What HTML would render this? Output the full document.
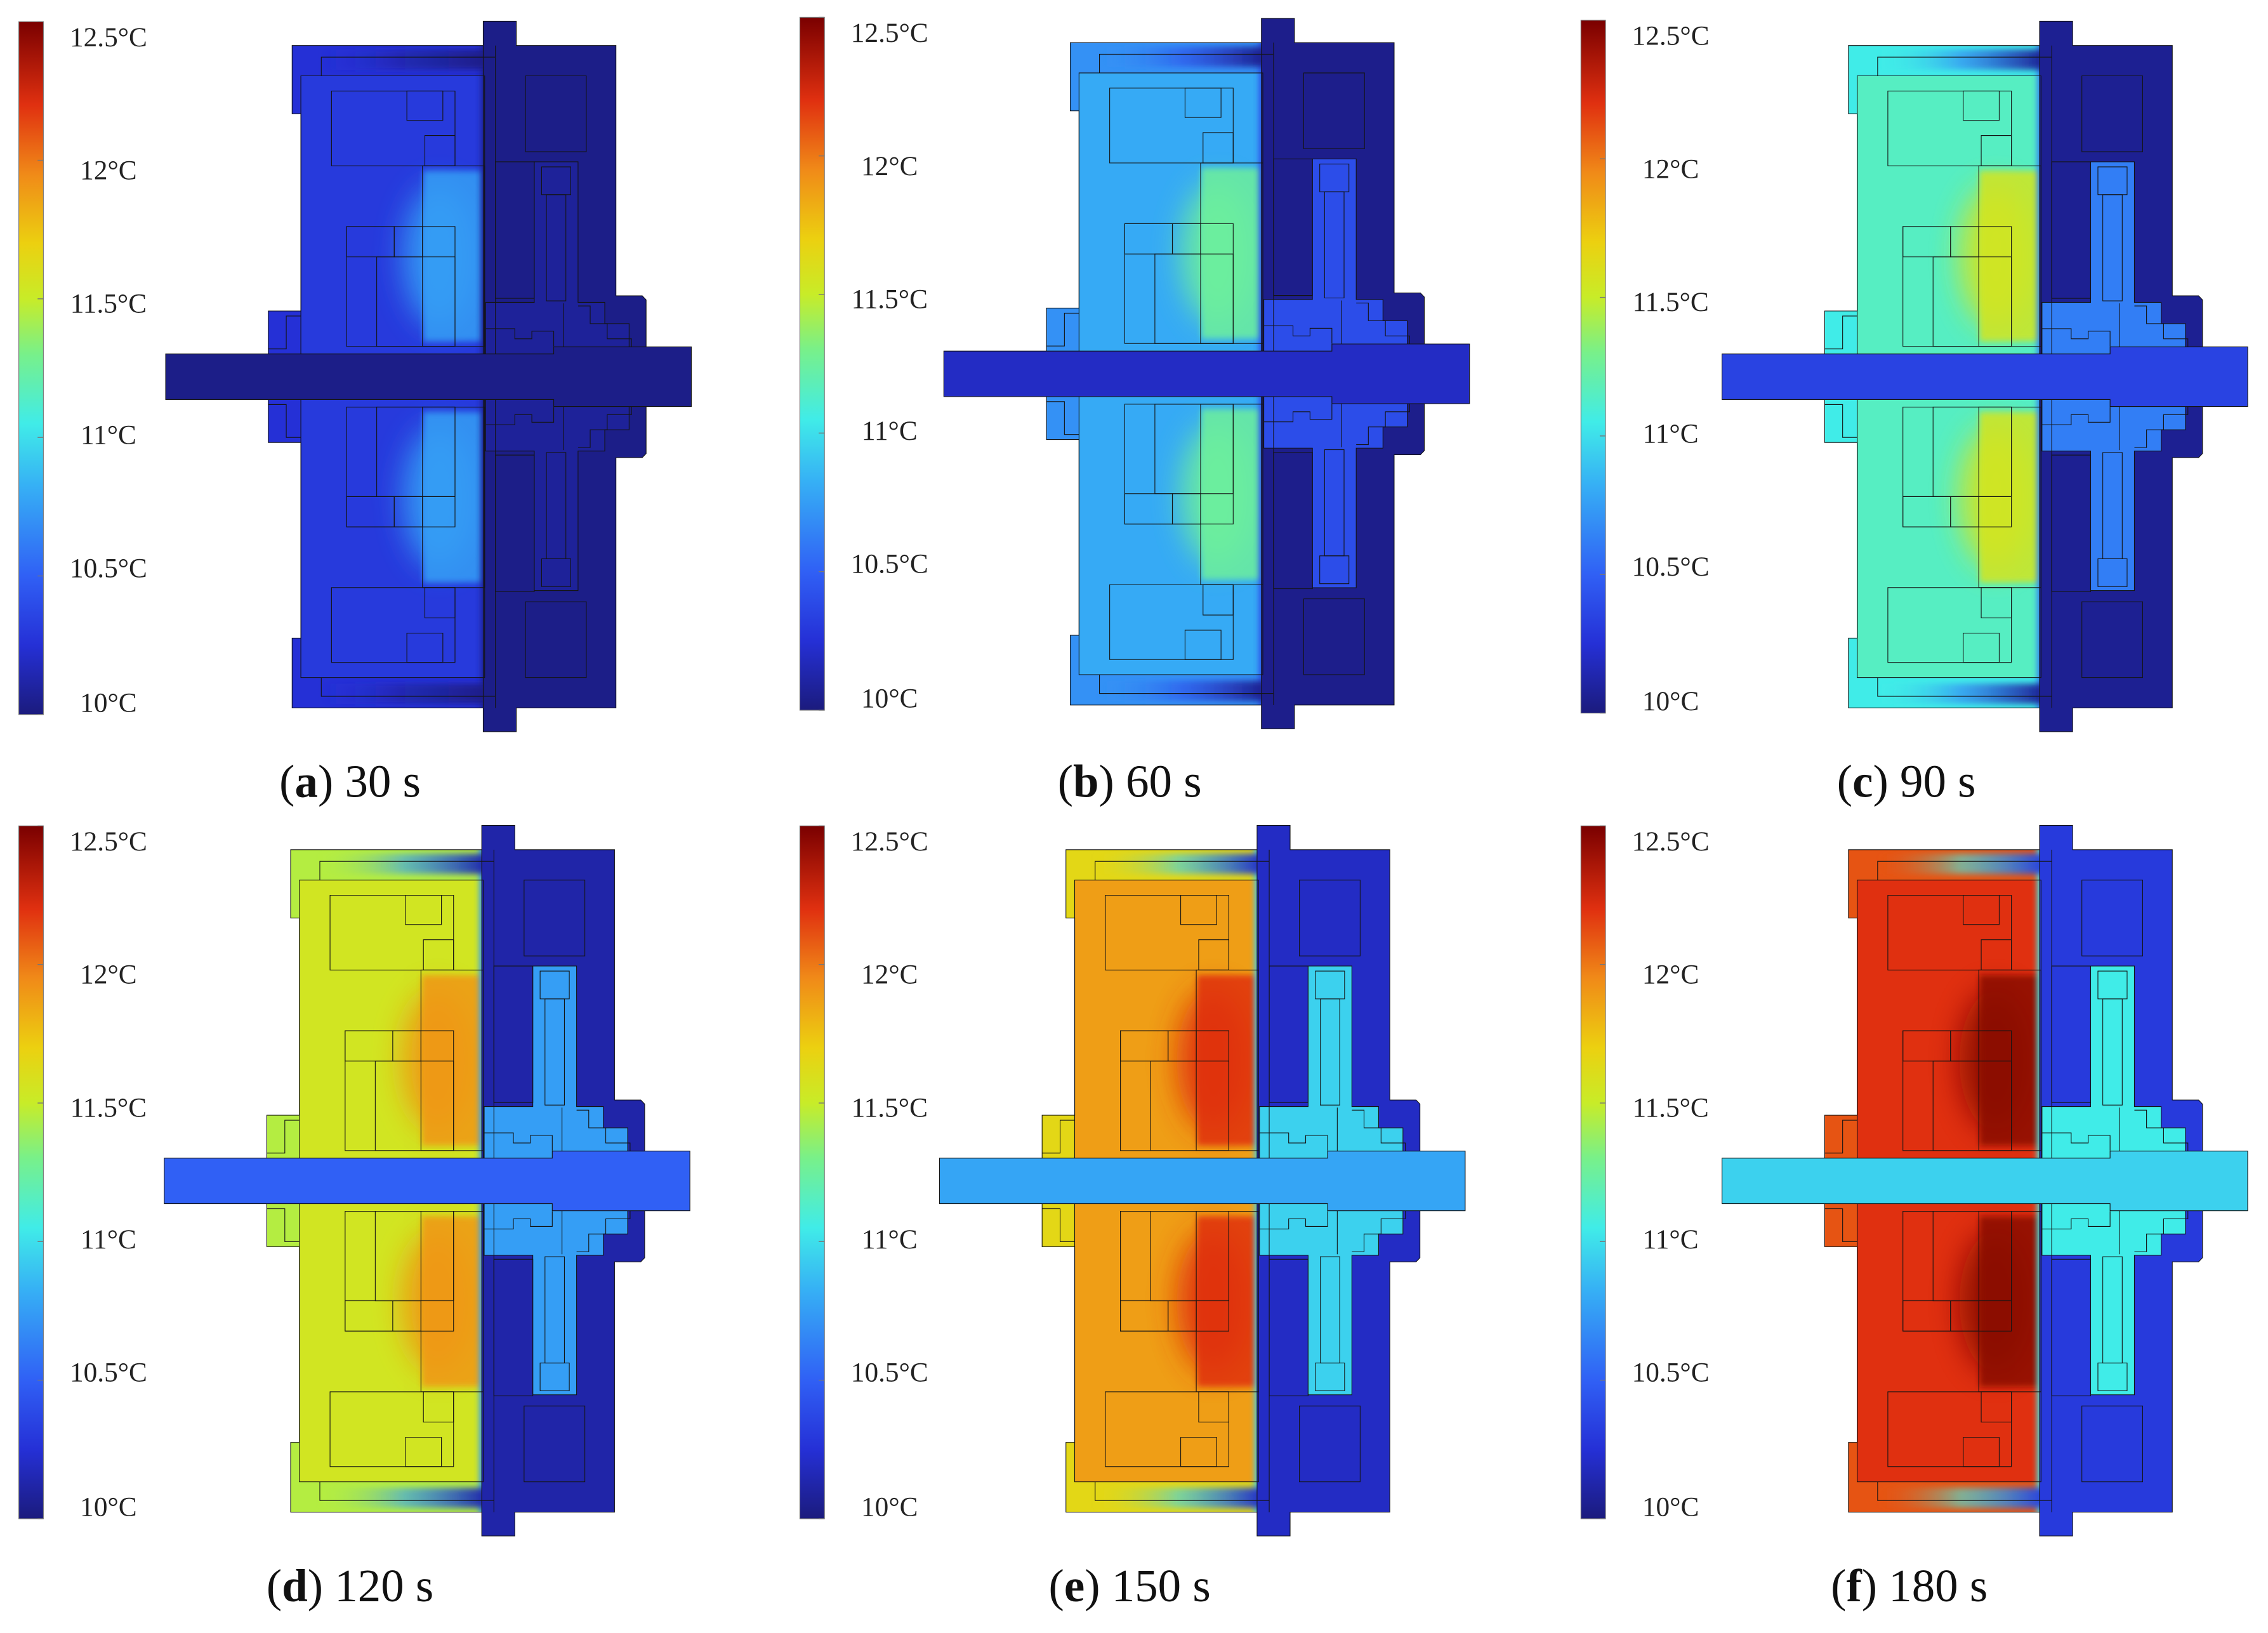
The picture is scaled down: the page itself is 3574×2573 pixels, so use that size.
<!DOCTYPE html>
<html><head><meta charset="utf-8"><style>
html,body{margin:0;padding:0;background:#fff;}
svg{display:block;}
text{font-family:"Liberation Serif",serif;}
</style></head><body>
<svg id="fig" width="3574" height="2573" viewBox="0 0 1568 1129" preserveAspectRatio="none" xmlns="http://www.w3.org/2000/svg">
<defs>
<linearGradient id="cbar" x1="0" y1="1" x2="0" y2="0">
<stop offset="0" stop-color="#1b1b7d"/><stop offset="0.1" stop-color="#2530d6"/><stop offset="0.2" stop-color="#3060f5"/><stop offset="0.33" stop-color="#36b0f5"/><stop offset="0.42" stop-color="#40ece8"/><stop offset="0.52" stop-color="#78f08a"/><stop offset="0.6" stop-color="#c8ec28"/><stop offset="0.68" stop-color="#ecd010"/><stop offset="0.78" stop-color="#f08a18"/><stop offset="0.88" stop-color="#e03010"/><stop offset="1" stop-color="#7a0000"/>
</linearGradient>
<filter id="blur" x="-50%" y="-50%" width="200%" height="200%"><feGaussianBlur stdDeviation="30"/></filter>
<filter id="blur2" x="-50%" y="-50%" width="200%" height="200%"><feGaussianBlur stdDeviation="6"/></filter>
</defs>
</svg>
<script>
const panelLabels = ['a','b','c','d','e','f'];
const panelTimes = ['30 s','60 s','90 s','120 s','150 s','180 s'];
const coldTemp = [10.03, 10.04, 10.06, 10.12, 10.2, 10.3];
const shellTemp = [10.25, 10.7, 11.05, 11.45, 11.65, 12.1];
const housingTemp = [10.3, 10.8, 11.15, 11.55, 11.88, 12.2];
const hotTemp = [10.75, 11.25, 11.55, 11.9, 12.2, 12.45];
const shaftTemp = [10.03, 10.2, 10.35, 10.5, 10.78, 10.95];
const hubTemp = [10.08, 10.4, 10.62, 10.75, 10.95, 11.05];
const tickValues = [12.5, 12, 11.5, 11, 10.5, 10];
const tickLabels = ['12.5°C','12°C','11.5°C','11°C','10.5°C','10°C'];
const tMin = 10, tMax = 12.5;

const stops = [[0,[27,27,125]],[0.1,[37,48,214]],[0.2,[48,96,245]],[0.33,[54,176,245]],[0.42,[64,236,232]],[0.52,[120,240,138]],[0.6,[200,236,40]],[0.68,[236,208,16]],[0.78,[240,138,24]],[0.88,[224,48,16]],[1,[122,0,0]]];
function jet(v){
  let t=(v-tMin)/(tMax-tMin); t=Math.max(0,Math.min(1,t));
  for(let i=1;i<stops.length;i++){ if(t<=stops[i][0]){ const a=stops[i-1],b=stops[i],f=(t-a[0])/(b[0]-a[0]);
    const c=a[1].map((x,k)=>Math.round(x+(b[1][k]-x)*f)); return 'rgb('+c.join(',')+')'; } }
  return 'rgb(122,0,0)';
}
const NS='http://www.w3.org/2000/svg';
const svg=document.getElementById('fig');
function el(tag,attrs,parent){const e=document.createElementNS(NS,tag);for(const k in attrs)e.setAttribute(k,attrs[k]);parent.appendChild(e);return e;}
const cbX=[13,553,1093,13,553,1093], cbY=[15,12,14,571,571,571];
const mX=[0,538,1076,-1,535,1076], mY=[0,-2,0,556,556,556];
const capX=[242,781,1318,242,781,1320], capY=[551,551,551,1107,1107,1107];
const barH=479, labelOff=[11,103,195,286,378,471];

function mirrorRect(g,x1,y1,x2,y2,attrs,name){
  [[y1,y2],[1490-y2,1490-y1]].forEach(([a,b])=>{const r=el('rect',Object.assign({x:x1,y:a,width:x2-x1,height:b-a},attrs),g);
     });
}
const ln={fill:'none',stroke:'#141414','stroke-width':1.1,'vector-effect':'non-scaling-stroke'};

for(let p=0;p<6;p++){
  const panel=el('g',{},svg);
  
  
  const cb=el('g',{transform:`translate(${cbX[p]},${cbY[p]})`},panel);
  
  
  const bar=el('rect',{x:0,y:0,width:17,height:barH,fill:'url(#cbar)',stroke:'#777','stroke-width':0.5},cb);
  
  
  tickValues.forEach((v,i)=>{
    const y=barH-(v-tMin)/(tMax-tMin)*barH;
    const tk=el('line',{x1:13,x2:17,y1:y,y2:y,stroke:'#777','stroke-width':0.6},cb);
    
    
    const t=el('text',{x:62,y:labelOff[i]+6,'text-anchor':'middle','font-size':19,fill:'#222'},cb);
    t.textContent=tickLabels[i];
    
    
  });
  const g=el('g',{transform:`translate(${mX[p]},${mY[p]}) matrix(0.3362,0,0,0.3496,-0.45,0)`},panel);
  
  
  const cold=jet(coldTemp[p]), shell=jet(shellTemp[p]), hous=jet(housingTemp[p]), hot=jet(hotTemp[p]), sh=jet(shaftTemp[p]), hub=jet(hubTemp[p]);
  const clipId='clip'+p;
  const cp=el('clipPath',{id:clipId},g);
  el('polygon',{points:'602,90 998,90 998,1400 602,1400 602,1262 620,1262 620,875 553,875 553,615 620,615 620,225 602,225'},cp);
  const lh=el('g',{'clip-path':`url(#${clipId})`},g);
  
  
  el('rect',{x:540,y:80,width:470,height:1330,fill:shell},lh);
  el('rect',{x:620,y:150,width:378,height:1190,fill:hous},lh);
  // hot spots
  [[328,685],[805,1162]].forEach(([a,b])=>{
    el('ellipse',{cx:905,cy:(a+b)/2,rx:75,ry:140,fill:hot,opacity:0.9,filter:'url(#blur)'},lh);
    const r=el('rect',{x:872,y:a+10,width:126,height:b-a-20,fill:hot,opacity:0.85,filter:'url(#blur2)'},lh);
    
    
  });
  // cold edge bands
  el('rect',{x:990,y:80,width:24,height:1330,fill:hub,filter:'url(#blur2)'},lh);
  const bandT=el('linearGradient',{id:'band'+p,x1:0,y1:0,x2:1,y2:0},g);
  el('stop',{offset:'0',"stop-color":shell,"stop-opacity":0},bandT);
  el('stop',{offset:'0.5',"stop-color":hub,"stop-opacity":0.6},bandT);
  el('stop',{offset:'1',"stop-color":cold,"stop-opacity":1},bandT);
  el('rect',{x:660,y:98,width:345,height:40,fill:`url(#band${p})`,filter:'url(#blur2)'},lh);
  el('rect',{x:660,y:1352,width:345,height:40,fill:`url(#band${p})`,filter:'url(#blur2)'},lh);
  el('polygon',{points:'602,90 998,90 998,1400 602,1400 602,1262 620,1262 620,875 553,875 553,615 620,615 620,225 602,225',fill:'none',stroke:'#141414','stroke-width':1.1,'vector-effect':'non-scaling-stroke'},g);
  const rh=el('polygon',{points:'995,42 1063,42 1063,90 1268,90 1268,585 1322,585 1330,593 1330,897 1322,905 1268,905 1268,1400 1063,1400 1063,1447 995,1447',fill:cold,stroke:'#141414','stroke-width':1.1,'vector-effect':'non-scaling-stroke'},g);
  
  
  const hb=el('polygon',{points:'1000,598 1100,598 1100,320 1190,320 1190,598 1245,598 1245,640 1295,640 1295,850 1245,850 1245,892 1190,892 1190,1168 1100,1168 1100,892 1000,892',fill:hub,stroke:'#141414','stroke-width':1.1,'vector-effect':'non-scaling-stroke'},g);
  
  
  const o=el('g',{},g);
  
  
  el('polyline',Object.assign({points:'662,150 662,113 1020,113'},ln),o);
  el('polyline',Object.assign({points:'662,1340 662,1377 1020,1377'},ln),o);
  el('rect',Object.assign({x:620,y:150,width:378,height:1190},ln),o);
  el('line',Object.assign({x1:1020,y1:90,x2:1020,y2:1400},ln),o);
  mirrorRect(o,683,180,937,328,ln,'coil-block');
  mirrorRect(o,838,180,912,238,ln,'coil-sub');
  mirrorRect(o,875,268,937,328,ln,'coil-sub');
  mirrorRect(o,870,328,998,685,ln,'stator-tooth');
  mirrorRect(o,714,448,937,685,ln,'magnet-block');
  mirrorRect(o,714,448,812,508,ln,'magnet-sub');
  mirrorRect(o,812,448,870,508,ln,'magnet-sub');
  mirrorRect(o,776,508,937,685,ln,'magnet-sub');
  mirrorRect(o,1082,150,1207,300,ln,'right-block');
  mirrorRect(o,1020,320,1100,590,ln,'flange-slot');
  mirrorRect(o,1115,330,1175,385,ln,'bearing');
  mirrorRect(o,1125,385,1165,595,ln,'channel');
  el('polyline',Object.assign({points:'553,690 590,690 590,625 620,625'},ln),o);
  el('polyline',Object.assign({points:'553,800 590,800 590,865 620,865'},ln),o);
  el('polyline',Object.assign({points:'1000,650 1060,650 1060,670 1095,670 1095,655 1140,655 1140,685'},ln),o);
  el('polyline',Object.assign({points:'1000,840 1060,840 1060,820 1095,820 1095,835 1140,835 1140,805'},ln),o);
  el('polyline',Object.assign({points:'1190,605 1215,605 1215,640 1250,640 1250,670 1300,670 1300,690 1330,690'},ln),o);
  el('polyline',Object.assign({points:'1190,885 1215,885 1215,850 1250,850 1250,820 1300,820 1300,800 1330,800'},ln),o);
  el('line',Object.assign({x1:1160,y1:600,x2:1160,y2:890},ln),o);
  const s=el('polygon',{points:'342,700 1140,700 1140,686 1423,686 1423,804 1140,804 1140,790 342,790',fill:sh,stroke:'#141414','stroke-width':1.1,'vector-effect':'non-scaling-stroke'},g);
  
  
  const cap=el('text',{x:capX[p],y:capY[p],'text-anchor':'middle','font-size':32,fill:'#111'},panel);
  
  
  const t1=el('tspan',{},cap); t1.textContent='(';
  const t2=el('tspan',{'font-weight':'bold'},cap); t2.textContent=panelLabels[p];
  const t3=el('tspan',{},cap); t3.textContent=') '+panelTimes[p];
}
</script>
</body></html>
